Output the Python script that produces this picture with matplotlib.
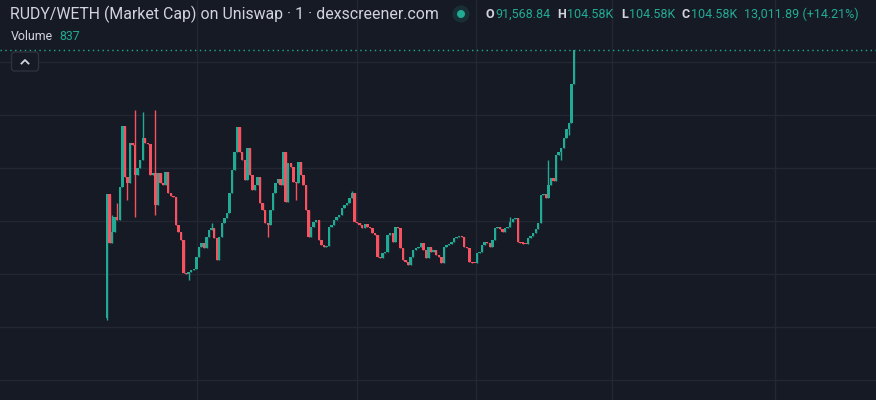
import numpy as np
import matplotlib
matplotlib.use('Agg')
import matplotlib.pyplot as plt
from matplotlib.patches import FancyBboxPatch, Circle
from matplotlib.lines import Line2D


# market cap in thousands, one close per 1-minute candle
first_open = 3.4
closes = [
    50.2, 31.7, 35.8, 41.5, 40.4, 52.8, 75.8, 56.6, 54.3, 69.4,
    68.7, 57.4, 60.0, 63.0, 71.3, 69.4, 69.0, 57.4, 58.1, 46.0,
    58.1, 54.3, 53.6, 58.5, 50.6, 49.4, 49.1, 38.5, 35.8, 32.8,
    20.4, 20.0, 20.8, 21.5, 21.8, 26.4, 30.2, 31.7, 29.8, 34.0, 36.6,
    37.4, 33.6, 25.3, 34.0, 39.2, 41.0, 43.0, 50.6, 59.2, 66.0, 75.5,
    66.0, 63.0, 55.5, 67.5, 57.4, 51.7, 53.6, 56.6, 46.8, 44.2,
    39.2, 38.5, 44.0, 50.6, 54.3, 55.8, 53.6, 66.0, 47.2, 61.9, 60.4,
    54.7, 54.3, 62.3, 57.4, 53.6, 44.2, 34.0, 37.7, 39.6, 40.4,
    32.8, 30.9, 30.2, 30.6, 37.7, 38.5, 40.4, 41.5, 42.3, 44.9, 45.9,
    46.8, 48.7, 50.6, 39.6, 39.2, 38.5, 37.4, 38.9, 37.7,
    37.4, 35.5, 34.7, 26.4, 26.0, 27.9, 28.3, 34.7, 35.5, 32.1,
    37.7, 37.4, 29.8, 25.3, 24.5, 23.4, 26.4, 29.1, 29.8, 30.2,
    31.7, 29.1, 26.0, 30.2, 28.3, 29.1, 27.2, 26.4, 24.2, 30.2,
    30.9, 31.3, 32.1, 33.6, 34.0, 34.3, 34.0, 30.2, 29.8, 24.5,
    24.2, 24.0, 27.9, 28.3, 30.9, 32.1, 31.7, 30.2, 32.8,
    37.4, 37.7, 37.0, 35.8, 37.4, 37.7, 39.6, 40.8, 41.1,
    32.1, 31.7, 31.5, 31.3, 33.6, 34.3, 35.5, 37.0, 39.2, 49.8,
    50.2, 48.7, 53.6, 56.2, 55.0, 64.9, 66.0, 67.5, 71.3, 74.7,
    77.0, 91.57, 104.58,
]
# candles with wicks beyond the body (index: value)
wick_highs = {2: 42.3, 4: 46.8, 11: 81.9, 14: 81.1, 19: 81.9, 41: 39.2,
              96: 51.3, 158: 41.5, 173: 63.0}
wick_lows = {0: 2.6, 8: 47.9, 11: 41.5, 19: 42.3, 32: 17.7, 63: 34.0,
             74: 47.9, 178: 63.0, 181: 72.5}

title = 'RUDY/WETH (Market Cap) on Uniswap · 1 · dexscreener.com'
volume = '837'
ohlc_parts = [('O', 'l'), ('91,568.84', 'v'), ('H', 'l'), ('104.58K', 'v'),
              ('L', 'l'), ('104.58K', 'v'), ('C', 'l'), ('104.58K', 'v'),
              ('13,011.89 (+14.21%)', 'v')]

BG = '#161a25'
GRID = '#232733'
UP = '#22ab94'
DOWN = '#f7525f'
TXT = '#d1d4dc'
FONT = 'Roboto'
W, H = 876, 400

# layout: first and last candle pixel columns, time grid columns
first_px, last_px = 107, 574
grid_px = [197, 357, 476, 612, 775]


def fy(py):
    return 1 - py / H


def fit_text(x, y, s, width, color, r, **kw):
    # pick the font size that gives the text the width seen in the reference
    t = fig.text(x / W, fy(y), s, color=color, fontsize=10, va='center', ha='left',
                 family=FONT, **kw)
    w = t.get_window_extent(r).width
    t.set_fontsize(10 * width / w)
    return t


n = len(closes)
opens = [first_open] + closes[:-1]
step = (last_px - first_px) / (n - 1)

fig = plt.figure(figsize=(W / 100, H / 100), dpi=100, facecolor=BG)
ax = fig.add_axes([0, 0, 1, 1], facecolor=BG)

for i, (o, c) in enumerate(zip(opens, closes)):
    col = UP if c >= o else DOWN
    hi = wick_highs.get(i, max(o, c))
    lo = wick_lows.get(i, min(o, c))
    if hi > lo:
        ax.vlines(i, lo, hi, color=col, lw=1.0, zorder=3)
    ax.bar(i, max(abs(c - o), 0.4), bottom=min(o, c), width=0.95,
           color=col, linewidth=0, zorder=4)

ax.axhline(closes[-1], color=UP, lw=1.0, ls=(0, (1, 2.5)), zorder=2)

ax.set_xlim(-first_px / step, (W - first_px) / step)
ax.set_ylim(-27.55, 123.4)
ax.set_yticks([-20, 0, 20, 40, 60, 80, 100])
ax.set_xticks([(p - first_px) / step for p in grid_px])
ax.grid(True, color=GRID, lw=1.0)
ax.tick_params(length=0, labelbottom=False, labelleft=False)
for s in ax.spines.values():
    s.set_visible(False)

# header texts
r = fig.canvas.get_renderer()
fit_text(10, 14, title, 427, TXT, r)
t = fit_text(11, 37, 'Volume', 42, TXT, r)
bb = t.get_window_extent(r)
fig.text((bb.x1 + 6) / W, fy(37), volume, color=UP, fontsize=t.get_fontsize(),
         va='center', ha='left', family=FONT)

fig.add_artist(Circle((461, H - 14), 8.5, transform=None, color=UP, alpha=0.15, lw=0))
fig.add_artist(Circle((461, H - 14), 4, transform=None, color=UP, lw=0))

# O H L C line, scaled to span 486..859 px
hdr_size = 9.5
for attempt in range(2):
    arts = []
    x = 486
    for s, kind in ohlc_parts:
        t = fig.text(x / W, fy(14), s, color=TXT if kind == 'l' else UP,
                     fontsize=hdr_size, va='center', ha='left', family=FONT,
                     fontweight='bold' if kind == 'l' else 'normal')
        arts.append(t)
        bb = t.get_window_extent(r)
        x = bb.x1 + (1 if kind == 'l' else 7)
    if attempt == 0:
        span = x - 7 - 486
        hdr_size = hdr_size * (373 - 4 * 7) / (span - 4 * 7)
        for a in arts:
            a.remove()

# collapse button
fig.add_artist(FancyBboxPatch((11.5, H - 71), 27, 19, boxstyle='round,pad=0,rounding_size=3',
                              transform=None, facecolor=BG, edgecolor='#2e323e', lw=1))
fig.add_artist(Line2D([21.5, 25, 28.5], [H - 63.5, H - 60, H - 63.5], transform=None,
                      color=TXT, lw=1.3))

fig.savefig('out.png', dpi=100, facecolor=BG)
